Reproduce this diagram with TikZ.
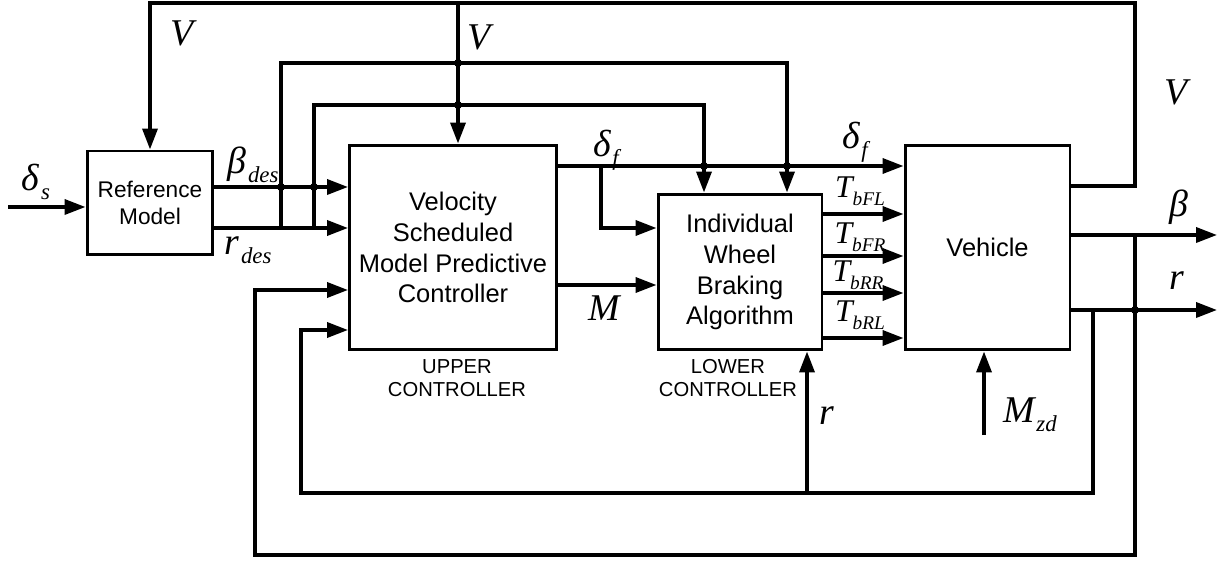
\documentclass[tikz,border=0pt]{standalone}
\usepackage{fontspec}
\setmainfont{Liberation Sans}
\newfontfamily\tms{Liberation Serif}
\usetikzlibrary{arrows.meta}
\tikzstyle{block} = [draw, line width=1.7pt, align=center, inner sep=0pt, font=\fontsize{14.5}{17.6}\selectfont]
\tikzstyle{sig} = [line width=2pt]
\tikzstyle{arrow} = [sig, -{Triangle[length=0.42cm,width=0.3cm]}]
\tikzstyle{dot} = [circle, fill, inner sep=0pt, minimum size=0.16cm]
\tikzstyle{note} = [align=center, font=\fontsize{11.5}{13}\selectfont]
\newcommand{\var}[2]{{\fontsize{21.5}{23}\selectfont\tms\itshape #1}\kern1pt{\fontsize{13}{14}\selectfont\tms\itshape\raisebox{-0.9ex}{#2}}}
\newcommand{\tq}[1]{{\fontsize{18}{19}\selectfont\tms\itshape T}{\fontsize{11}{12}\selectfont\tms\itshape\raisebox{-0.9ex}{#1}}}

\begin{document}
\begin{tikzpicture}[x=0.02cm, y=-0.02cm]
            \useasboundingbox (0,0) rectangle (1226,563);
            % blocks
            \node[block, minimum width=2.52cm, minimum height=2.08cm, font=\fontsize{12.9}{15.3}\selectfont] (ref) at (150,203) {Reference\\Model};
            \node[block, minimum width=4.14cm, minimum height=4.1cm] (mpc) at (453,247.5) {Velocity\\Scheduled\\Model Predictive\\Controller};
            \node[block, minimum width=3.28cm, minimum height=3.12cm] (iwb) at (740,272) {Individual\\Wheel\\Braking\\Algorithm};
            \node[block, minimum width=3.3cm, minimum height=4.1cm] (veh) at (987.5,247.5) {Vehicle};
            \node[note] (upper) at (457,378) {UPPER\\CONTROLLER};
            \node[note] (lower) at (728,378) {LOWER\\CONTROLLER};
            % points
            \coordinate (in) at (8,207);
            \coordinate (b1) at (281,228);
            \coordinate (b2) at (314,228);
            \coordinate (w1) at (704,105);
            \coordinate (w2) at (787,63);
            \coordinate (vs) at (458,3);
            \coordinate (vr) at (1135,186);
            \coordinate (df) at (601,166);
            \coordinate (bout) at (1217,235);
            \coordinate (rout) at (1217,310);
            \coordinate (fb1) at (1135,235);
            \coordinate (fb1b) at (255,555);
            \coordinate (fb2) at (1093,310);
            \coordinate (fb2b) at (301,493);
            \coordinate (rb) at (807,493);
            \coordinate (mzd) at (984,435);
            % signals
            \draw[arrow] (in) -- (ref.west |- in);
            \draw[arrow] (veh.east |- vr) -- (vr) -- (vr |- vs) -| (ref.north);
            \draw[arrow] (vs) -- (vs |- mpc.north);
            \draw[arrow] (ref.east |- 0,187) -- (mpc.west |- 0,187);
            \draw[arrow] (ref.east |- b1) -- (mpc.west |- b1);
            \draw[arrow] (b1) |- (w2) -- (w2 |- iwb.north);
            \draw[arrow] (b2) |- (w1) -- (w1 |- iwb.north);
            \draw[arrow] (mpc.east |- df) -- (veh.west |- df);
            \draw[arrow] (df) |- (iwb.west |- 0,228);
            \draw[arrow] (mpc.east |- 0,285) -- (iwb.west |- 0,285);
            \foreach \y in {214,256,293,338}
                \draw[arrow] (iwb.east |- 0,\y) -- (veh.west |- 0,\y);
            \draw[arrow] (veh.east |- bout) -- (bout);
            \draw[arrow] (veh.east |- rout) -- (rout);
            \draw[arrow] (fb1) |- (fb1b) |- (mpc.west |- 0,290);
            \draw[arrow] (fb2) |- (fb2b) |- (mpc.west |- 0,330);
            \draw[arrow] (rb) -- (rb |- iwb.south);
            \draw[arrow] (mzd) -- (mzd |- veh.south);
            % junctions
            \foreach \p in {(281,187),(314,187),(458,63),(458,105),(704,166),(787,166),(1135,310)}
                \node[dot] at \p {};
            % labels
            \node (ds) at (36,182) {\var{δ}{s}};
            \node (bdes) at (253,165) {\var{β}{des}};
            \node (rdes) at (248,250) {\var{r}{des}};
            \node (v1) at (183,38) {\var{V}{}};
            \node (v2) at (480,42) {\var{V}{}};
            \node (v3) at (1177,97) {\var{V}{}};
            \node (df1) at (606,150) {\var{δ}{f}};
            \node (df2) at (855,142) {\var{δ}{f}};
            \node (m) at (605,313) {\var{M}{}};
            \node (tfl) at (860,191) {\tq{bFL}};
            \node (tfr) at (860,237) {\tq{bFR}};
            \node (trr) at (858,275) {\tq{bRR}};
            \node (trl) at (860,315) {\tq{bRL}};
            \node (beta) at (1180,208) {\var{β}{}};
            \node (r1) at (1178,285) {\var{r}{}};
            \node (r2) at (828,420) {\var{r}{}};
            \node (mz) at (1030,415) {\var{M}{zd}};
\end{tikzpicture}
\end{document}
